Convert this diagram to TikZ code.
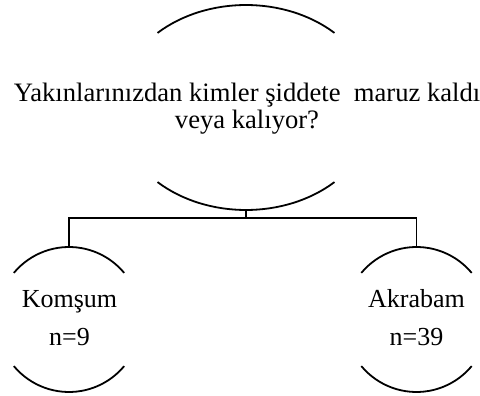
\documentclass[tikz,border=0pt]{standalone}
\usepackage{fontspec}
\setmainfont{Liberation Serif}
\newfontfamily\tnrfont{Liberation Serif}
\usetikzlibrary{shapes.geometric}
\begin{document}
\begin{tikzpicture}[x=1pt,y=1pt,
  line width=1.8pt,
  shell/.style={ellipse, draw=none, inner sep=0pt, minimum width=#1},
  lbl/.style={font=\tnrfont\fontsize{26.6}{27}\selectfont, align=center, inner sep=0pt},
  sublbl/.style={font=\tnrfont\fontsize{26}{38}\selectfont, align=center, inner sep=0pt},
  link/.style={line width=1.8pt}]
\useasboundingbox (0,0) rectangle (480,-396);
% shapes (invisible, for anchors)
\node[shell=258pt, minimum height=205pt] (q) at (246,-107.5) {};
\node[shell=144pt, minimum height=145pt] (k) at (69,-319.5) {};
\node[shell=144pt, minimum height=145pt] (a) at (416.5,-319.5) {};
% arcs
\draw ([shift={(133.3:129pt and 102.5pt)}]q.center) arc[start angle=133.3, end angle=46.7, x radius=129pt, y radius=102.5pt];
\draw ([shift={(226.7:129pt and 102.5pt)}]q.center) arc[start angle=226.7, end angle=313.3, x radius=129pt, y radius=102.5pt];
\foreach \n in {k,a}{
  \draw ([shift={(140:72pt and 72.5pt)}]\n.center) arc[start angle=140, end angle=40, x radius=72pt, y radius=72.5pt];
  \draw ([shift={(220:72pt and 72.5pt)}]\n.center) arc[start angle=220, end angle=320, x radius=72pt, y radius=72.5pt];
}
% texts
\node[lbl] (qt) at (247,-108.4) {Yakınlarınızdan kimler şiddete\ \ maruz kaldı\\veya kalıyor?};
\node[sublbl] (kt) at (69.5,-318) {Komşum\\n=9};
\node[sublbl] (at) at (416.5,-318) {Akrabam\\n=39};
% connectors
\draw[link] (q.south) -- ++(0,-7) coordinate (j);
\draw[link] (j) -| (k.north);
\draw[link] (j) -| (a.north);
\end{tikzpicture}
\end{document}
